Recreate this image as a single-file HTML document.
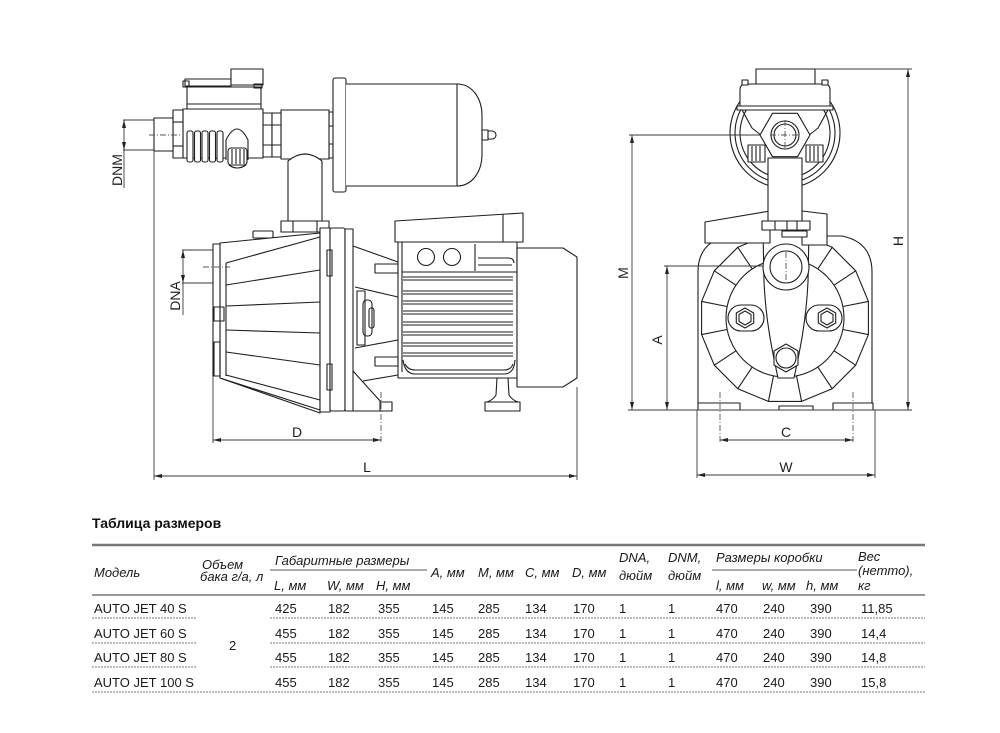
<!DOCTYPE html>
<html><head><meta charset="utf-8"><style>
html,body{margin:0;padding:0;background:#fff;}
svg{display:block;}
</style></head><body>
<svg width="1000" height="733" viewBox="0 0 1000 733" xmlns="http://www.w3.org/2000/svg" font-family="Liberation Sans, sans-serif">
<rect width="1000" height="733" fill="#fff"/>
<g fill="none" stroke="#1e1e1e" stroke-width="1.1" stroke-linejoin="round">
<!-- ===== LEFT VIEW ===== -->
<!-- tank -->
<rect x="329" y="112" width="4" height="14"/>
<rect x="329" y="144" width="4" height="14"/>
<rect x="333" y="78" width="13" height="114" rx="2" fill="#fff"/>
<path d="M346,84 H457 C472,84 482,98 482,116 V154 C482,172 472,186 457,186 H346" fill="#fff"/>
<line x1="457" y1="84" x2="457" y2="186"/>
<rect x="482" y="130" width="6" height="10"/>
<path d="M488,131 h4 a4,4 0 0 1 0,8 h-4"/>
<!-- tee -->
<rect x="281" y="110" width="48" height="49" fill="#fff"/>
<rect x="263" y="113" width="9" height="44" fill="#fff"/>
<rect x="272" y="113" width="9" height="44" fill="#fff"/>
<line x1="263" y1="125" x2="281" y2="125"/>
<line x1="263" y1="145" x2="281" y2="145"/>
<path d="M288,224 V161 Q305,147 322,161 V224" fill="#fff"/>
<rect x="281" y="221" width="48" height="11" fill="#fff"/>
<line x1="293" y1="221" x2="293" y2="232"/>
<line x1="317" y1="221" x2="317" y2="232"/>
<!-- pressure switch -->
<rect x="185" y="79" width="46" height="7"/>
<rect x="183" y="81" width="6" height="6"/>
<rect x="187" y="87" width="74" height="22" fill="#fff"/>
<line x1="187" y1="104" x2="261" y2="104"/>
<rect x="231" y="69" width="32" height="16" fill="#fff"/>
<rect x="254" y="84" width="8" height="4"/>
<rect x="183" y="109" width="80" height="49" fill="#fff"/>
<rect x="173" y="110" width="10" height="48" fill="#fff"/>
<line x1="173" y1="122" x2="183" y2="122"/>
<line x1="173" y1="146" x2="183" y2="146"/>
<rect x="154" y="118" width="19" height="33" fill="#fff"/>
<rect x="187" y="131" width="6" height="31" rx="2" fill="#fff"/>
<rect x="194.5" y="131" width="6" height="31" rx="2" fill="#fff"/>
<rect x="202" y="131" width="6" height="31" rx="2" fill="#fff"/>
<rect x="209.5" y="131" width="6" height="31" rx="2" fill="#fff"/>
<rect x="217" y="131" width="6" height="31" rx="2" fill="#fff"/>
<path d="M226,160 V140 Q237,118 248,140 V160" fill="#fff"/>
<rect x="228" y="148" width="19" height="17" rx="3" fill="#fff"/>
<line x1="232" y1="149" x2="232" y2="164"/><line x1="236" y1="149" x2="236" y2="164"/>
<line x1="240" y1="149" x2="240" y2="164"/><line x1="244" y1="149" x2="244" y2="164"/>
<path d="M229,165 Q237,171 246,165"/>
<!-- pump volute -->
<rect x="253" y="231" width="20" height="7" rx="1" fill="#fff"/>
<path d="M220,243 L320,233 V413 L220,378 Z" fill="#fff"/>
<rect x="213" y="244" width="7" height="132" fill="#fff"/>
<rect x="214" y="307" width="10" height="14"/>
<rect x="214" y="342" width="6" height="34"/>
<line x1="226" y1="263" x2="320" y2="237"/>
<line x1="226" y1="263" x2="226" y2="376"/>
<line x1="226" y1="285" x2="320" y2="270"/>
<line x1="226" y1="306" x2="320" y2="302"/>
<line x1="226" y1="330" x2="320" y2="333"/>
<line x1="226" y1="352" x2="320" y2="365"/>
<line x1="226" y1="375" x2="320" y2="400"/>
<line x1="220" y1="378" x2="320" y2="410"/>
<!-- flanges -->
<rect x="320" y="228" width="10" height="184" fill="#fff"/>
<rect x="330" y="228" width="15" height="183" rx="2" fill="#fff"/>
<rect x="345" y="229" width="8" height="182" fill="#fff"/>
<rect x="327" y="250" width="5" height="26"/>
<rect x="327" y="364" width="5" height="26"/>
<!-- adapter -->
<line x1="353" y1="246" x2="398" y2="262"/>
<rect x="375" y="264" width="23" height="9" fill="#fff"/>
<line x1="355" y1="287" x2="398" y2="297"/>
<line x1="355" y1="348" x2="398" y2="340"/>
<rect x="357" y="291" width="8" height="54"/>
<rect x="363" y="300" width="9" height="36" rx="4"/>
<rect x="369" y="308" width="5" height="20" rx="2"/>
<rect x="375" y="357" width="23" height="9" fill="#fff"/>
<line x1="353" y1="371" x2="381" y2="402"/>
<line x1="363" y1="381" x2="398" y2="375"/>
<rect x="380" y="402" width="12" height="9" fill="#fff"/>
<line x1="347" y1="411" x2="392" y2="411"/>
<!-- motor -->
<rect x="398" y="242" width="119" height="136" fill="#fff"/>
<line x1="402" y1="242" x2="402" y2="372"/>
<path d="M395,221 L523,213 V242 H395 Z" fill="#fff"/>
<line x1="503" y1="214" x2="503" y2="242"/>
<line x1="402" y1="272" x2="517" y2="272"/>
<circle cx="426" cy="257" r="8.5"/>
<circle cx="452" cy="257" r="8.5"/>
<line x1="475" y1="244" x2="475" y2="271"/>
<path d="M478,258 H508 Q514,258 514,263"/>
<path d="M478,265 H512"/>
<g>
<line x1="403" y1="277" x2="513" y2="277"/><line x1="403" y1="280" x2="513" y2="280"/>
<line x1="403" y1="291" x2="513" y2="291"/><line x1="403" y1="294" x2="513" y2="294"/>
<line x1="403" y1="301" x2="513" y2="301"/><line x1="403" y1="304" x2="513" y2="304"/>
<line x1="403" y1="311" x2="513" y2="311"/><line x1="403" y1="314" x2="513" y2="314"/>
<line x1="403" y1="322" x2="513" y2="322"/><line x1="403" y1="325" x2="513" y2="325"/>
<line x1="403" y1="332" x2="513" y2="332"/><line x1="403" y1="335" x2="513" y2="335"/>
<line x1="403" y1="343" x2="513" y2="343"/><line x1="403" y1="346" x2="513" y2="346"/>
<line x1="403" y1="353" x2="513" y2="353"/><line x1="403" y1="356" x2="513" y2="356"/>
</g>
<path d="M403,360 Q405,374 415,374 H504 Q514,374 515,360"/>
<path d="M405,364 Q408,370 415,370 H504 Q511,370 513,364"/>
<path d="M497,378 L496,395 Q493,400 487,402"/>
<path d="M508,378 L509,395 Q512,400 518,402"/>
<rect x="485" y="402" width="35" height="9" fill="#fff"/>
<path d="M517,248 H563 L577,257 V378 L563,387 H517 Z" fill="#fff"/>

<!-- ===== RIGHT VIEW ===== -->
<path d="M698,410 V272 C698,252 708,240 728,236 L842,236 C862,240 872,252 872,272 V410 Z" fill="#fff"/>
<g transform="translate(785,318)">
<polygon points="83.4,16.6 70.7,47.2 47.2,70.7 16.6,83.4 -16.6,83.4 -47.2,70.7 -70.7,47.2 -83.4,16.6 -83.4,-16.6 -70.7,-47.2 -47.2,-70.7 -16.6,-83.4 16.6,-83.4 47.2,-70.7 70.7,-47.2 83.4,-16.6"/>
<circle cx="0" cy="0" r="59"/>
<line x1="59" y1="0" x2="85" y2="0" transform="rotate(11.25)"/>
<line x1="59" y1="0" x2="85" y2="0" transform="rotate(33.75)"/>
<line x1="59" y1="0" x2="85" y2="0" transform="rotate(56.25)"/>
<line x1="59" y1="0" x2="85" y2="0" transform="rotate(78.75)"/>
<line x1="59" y1="0" x2="85" y2="0" transform="rotate(101.25)"/>
<line x1="59" y1="0" x2="85" y2="0" transform="rotate(123.75)"/>
<line x1="59" y1="0" x2="85" y2="0" transform="rotate(146.25)"/>
<line x1="59" y1="0" x2="85" y2="0" transform="rotate(168.75)"/>
<line x1="59" y1="0" x2="85" y2="0" transform="rotate(191.25)"/>
<line x1="59" y1="0" x2="85" y2="0" transform="rotate(213.75)"/>
<line x1="59" y1="0" x2="85" y2="0" transform="rotate(236.25)"/>
<line x1="59" y1="0" x2="85" y2="0" transform="rotate(303.75)"/>
<line x1="59" y1="0" x2="85" y2="0" transform="rotate(326.25)"/>
<line x1="59" y1="0" x2="85" y2="0" transform="rotate(348.75)"/>
</g>
<rect x="698" y="403" width="42" height="7" fill="#fff"/>
<rect x="833" y="403" width="40" height="7" fill="#fff"/>
<rect x="779" y="406" width="34" height="4" fill="#fff"/>
<!-- neck -->
<path d="M763,230 L764,282 C766,322 772,350 778,378 L794,378 C800,350 806,322 808,282 L809,230 Z" fill="#fff"/>
<rect x="728" y="305" width="36" height="26" rx="13" fill="#fff"/>
<rect x="806" y="305" width="36" height="26" rx="13" fill="#fff"/>
<polygon points="745,308 753.7,313 753.7,323 745,328 736.3,323 736.3,313" fill="#fff"/>
<polygon points="745,311 751,314.5 751,321.5 745,325 739,321.5 739,314.5"/>
<polygon points="827,308 835.7,313 835.7,323 827,328 818.3,323 818.3,313" fill="#fff"/>
<polygon points="827,311 833,314.5 833,321.5 827,325 821,321.5 821,314.5"/>
<polygon points="786,344 798,351 798,365 786,372 774,365 774,351" fill="#fff"/>
<circle cx="786" cy="358" r="10"/>
<circle cx="786" cy="267" r="23" fill="#fff"/>
<circle cx="786" cy="267" r="16"/>
<!-- platform & top -->
<path d="M705,243 V222 L770,211 V243 Z" fill="#fff"/>
<path d="M802,211 L827,214 V245 H802 Z" fill="#fff"/>
<circle cx="785" cy="133" r="55"/>
<circle cx="785" cy="133" r="50"/>
<circle cx="785" cy="133" r="45"/>
<rect x="768" y="158" width="34" height="64" fill="#fff"/>
<rect x="762" y="221" width="48" height="9" fill="#fff"/>
<line x1="775" y1="221" x2="775" y2="230"/>
<line x1="787" y1="221" x2="787" y2="230"/>
<line x1="797" y1="221" x2="797" y2="230"/>
<rect x="782" y="231" width="25" height="6" fill="#fff"/>
<rect x="748" y="145" width="17" height="17" fill="#fff"/>
<line x1="752" y1="146" x2="752" y2="161"/><line x1="756" y1="146" x2="756" y2="161"/><line x1="760" y1="146" x2="760" y2="161"/>
<rect x="806" y="145" width="17" height="17" fill="#fff"/>
<line x1="810" y1="146" x2="810" y2="161"/><line x1="814" y1="146" x2="814" y2="161"/><line x1="818" y1="146" x2="818" y2="161"/>
<path d="M741,108 L752,128 L762,136" />
<path d="M829,108 L818,128 L808,136" />
<polygon points="810,135 797.5,156.7 772.5,156.7 760,135 772.5,113.3 797.5,113.3" fill="#fff"/>
<circle cx="785" cy="135" r="14"/>
<circle cx="785" cy="135" r="11"/>
<rect x="756" y="69" width="59" height="15" fill="#fff"/>
<path d="M740,108 V90 Q740,84 746,84 H824 Q830,84 830,90 V108 Z" fill="#fff"/>
<rect x="742" y="80" width="6" height="5" fill="#fff"/>
<rect x="822" y="80" width="6" height="5" fill="#fff"/>
<rect x="737" y="106" width="96" height="4" fill="#fff"/>
</g>

<!-- ===== DIMENSIONS ===== -->
<g fill="none" stroke="#3a3a3a" stroke-width="0.9">
<!-- center lines -->
<g stroke-dasharray="6,2,1,2" stroke="#555">
<line x1="149" y1="135" x2="182" y2="135"/>
<line x1="203" y1="267" x2="230" y2="267"/>
<line x1="381" y1="392" x2="381" y2="443"/>
<line x1="720" y1="392" x2="720" y2="443"/>
<line x1="853" y1="392" x2="853" y2="443"/>
<line x1="770" y1="135" x2="800" y2="135"/>
<line x1="785" y1="120" x2="785" y2="150"/>
<line x1="786" y1="252" x2="786" y2="282"/>
</g>
<!-- DNM -->
<line x1="123" y1="120" x2="154" y2="120"/>
<line x1="123" y1="150" x2="154" y2="150"/>
<line x1="124" y1="120" x2="124" y2="188"/>
<!-- DNA -->
<line x1="182" y1="250" x2="213" y2="250"/>
<line x1="182" y1="283" x2="213" y2="283"/>
<line x1="183" y1="250" x2="183" y2="315"/>
<!-- L & D -->
<line x1="154" y1="151" x2="154" y2="480"/>
<line x1="577" y1="387" x2="577" y2="480"/>
<line x1="154" y1="476" x2="577" y2="476"/>
<line x1="213" y1="376" x2="213" y2="443"/>
<line x1="213" y1="440" x2="381" y2="440"/>
<!-- right view -->
<line x1="815" y1="69" x2="912" y2="69"/>
<line x1="628" y1="410" x2="912" y2="410"/>
<line x1="908" y1="69" x2="908" y2="410"/>
<line x1="629" y1="135" x2="760" y2="135"/>
<line x1="632" y1="135" x2="632" y2="410"/>
<line x1="664" y1="266" x2="763" y2="266"/>
<line x1="667" y1="266" x2="667" y2="410"/>
<line x1="720" y1="440" x2="853" y2="440"/>
<line x1="697" y1="410" x2="697" y2="478"/>
<line x1="875" y1="410" x2="875" y2="478"/>
<line x1="697" y1="475" x2="875" y2="475"/>
</g>
<g fill="#222" stroke="none">
<!-- DNM arrows -->
<polygon points="124,120 122,128 126,128"/>
<polygon points="124,150 122,142 126,142"/>
<!-- DNA arrows -->
<polygon points="183,250 181,258 185,258"/>
<polygon points="183,283 181,275 185,275"/>
<!-- L -->
<polygon points="154,476 162,474 162,478"/>
<polygon points="577,476 569,474 569,478"/>
<!-- D -->
<polygon points="213,440 221,438 221,442"/>
<polygon points="381,440 373,438 373,442"/>
<!-- H -->
<polygon points="908,69 906,77 910,77"/>
<polygon points="908,410 906,402 910,402"/>
<!-- M -->
<polygon points="632,135 630,143 634,143"/>
<polygon points="632,410 630,402 634,402"/>
<!-- A -->
<polygon points="667,266 665,274 669,274"/>
<polygon points="667,410 665,402 669,402"/>
<!-- C -->
<polygon points="720,440 728,438 728,442"/>
<polygon points="853,440 845,438 845,442"/>
<!-- W -->
<polygon points="697,475 705,473 705,477"/>
<polygon points="875,475 867,473 867,477"/>
</g>
<g fill="#1e1e1e" font-size="14" text-anchor="middle">
<text x="367" y="472">L</text>
<text x="297" y="437">D</text>
<text x="786" y="437">C</text>
<text x="786" y="472">W</text>
<text transform="translate(628,273) rotate(-90)">M</text>
<text transform="translate(662,340) rotate(-90)">A</text>
<text transform="translate(903,241) rotate(-90)">H</text>
<text transform="translate(180,296) rotate(-90)">DNA</text>
<text transform="translate(122,170) rotate(-90)">DNM</text>
</g>

<!-- ===== TABLE ===== -->
<text x="92" y="528" font-size="14" font-weight="bold" fill="#111">Таблица размеров</text>
<g stroke="#777" fill="none">
<line x1="92" y1="545" x2="925" y2="545" stroke-width="2.5"/>
<line x1="270" y1="570" x2="427" y2="570" stroke-width="1.2"/>
<line x1="712" y1="570" x2="857" y2="570" stroke-width="1.2"/>
<line x1="92" y1="595" x2="925" y2="595" stroke-width="1.5"/>
<g stroke-dasharray="2,1" stroke-width="1">
<line x1="92" y1="618" x2="197" y2="618"/><line x1="270" y1="618" x2="925" y2="618"/>
<line x1="92" y1="643" x2="197" y2="643"/><line x1="270" y1="643" x2="925" y2="643"/>
<line x1="92" y1="667" x2="197" y2="667"/><line x1="270" y1="667" x2="925" y2="667"/>
<line x1="92" y1="692" x2="925" y2="692"/>
</g>
</g>
<g font-size="13" fill="#1a1a1a">
<g font-style="italic">
<text x="94" y="577">Модель</text>
<text x="202" y="569">Объем</text>
<text x="200" y="581">бака г/а, л</text>
<text x="275" y="565">Габаритные размеры</text>
<text x="274" y="590">L, мм</text>
<text x="327" y="590">W, мм</text>
<text x="376" y="590">H, мм</text>
<text x="431" y="577">A, мм</text>
<text x="478" y="577">M, мм</text>
<text x="525" y="577">C, мм</text>
<text x="572" y="577">D, мм</text>
<text x="619" y="562">DNA,</text>
<text x="619" y="580">дюйм</text>
<text x="668" y="562">DNM,</text>
<text x="668" y="580">дюйм</text>
<text x="716" y="562">Размеры коробки</text>
<text x="716" y="590">l, мм</text>
<text x="762" y="590">w, мм</text>
<text x="806" y="590">h, мм</text>
<text x="858" y="561">Вес</text>
<text x="858" y="575">(нетто),</text>
<text x="858" y="590">кг</text>
</g>
<text x="94" y="613">AUTO JET 40 S</text>
<text x="94" y="638">AUTO JET 60 S</text>
<text x="94" y="662">AUTO JET 80 S</text>
<text x="94" y="687">AUTO JET 100 S</text>
<text x="229" y="650">2</text>
<g>
<text x="275" y="613">425</text><text x="328" y="613">182</text><text x="378" y="613">355</text><text x="432" y="613">145</text><text x="478" y="613">285</text><text x="525" y="613">134</text><text x="573" y="613">170</text><text x="619" y="613">1</text><text x="668" y="613">1</text><text x="716" y="613">470</text><text x="763" y="613">240</text><text x="810" y="613">390</text><text x="861" y="613">11,85</text>
<text x="275" y="638">455</text><text x="328" y="638">182</text><text x="378" y="638">355</text><text x="432" y="638">145</text><text x="478" y="638">285</text><text x="525" y="638">134</text><text x="573" y="638">170</text><text x="619" y="638">1</text><text x="668" y="638">1</text><text x="716" y="638">470</text><text x="763" y="638">240</text><text x="810" y="638">390</text><text x="861" y="638">14,4</text>
<text x="275" y="662">455</text><text x="328" y="662">182</text><text x="378" y="662">355</text><text x="432" y="662">145</text><text x="478" y="662">285</text><text x="525" y="662">134</text><text x="573" y="662">170</text><text x="619" y="662">1</text><text x="668" y="662">1</text><text x="716" y="662">470</text><text x="763" y="662">240</text><text x="810" y="662">390</text><text x="861" y="662">14,8</text>
<text x="275" y="687">455</text><text x="328" y="687">182</text><text x="378" y="687">355</text><text x="432" y="687">145</text><text x="478" y="687">285</text><text x="525" y="687">134</text><text x="573" y="687">170</text><text x="619" y="687">1</text><text x="668" y="687">1</text><text x="716" y="687">470</text><text x="763" y="687">240</text><text x="810" y="687">390</text><text x="861" y="687">15,8</text>
</g>
</g>
</svg>
</body></html>
